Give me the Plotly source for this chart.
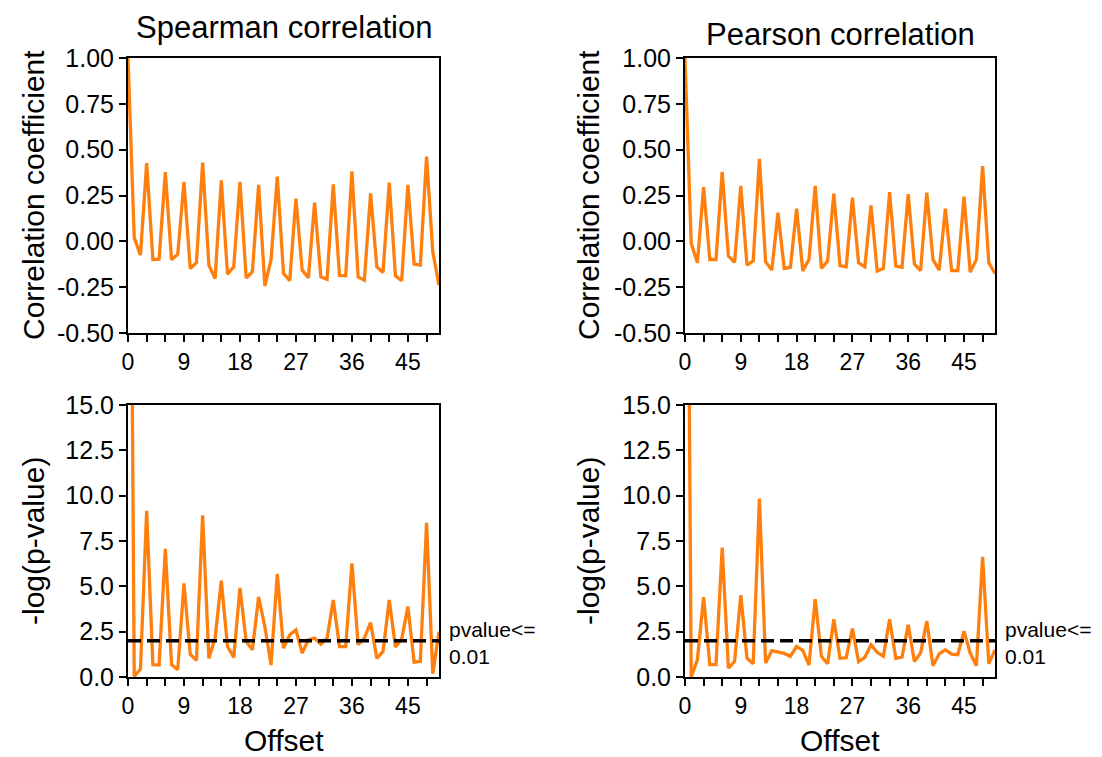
import plotly.graph_objects as go

offsets = list(range(51))

spearman_r = [1.0, 0.02, -0.075, 0.426, -0.099, -0.097, 0.377, -0.10, -0.07, 0.324,
              -0.148, -0.117, 0.430, -0.130, -0.203, 0.333, -0.179, -0.139, 0.324, -0.20,
              -0.166, 0.308, -0.243, -0.10, 0.353, -0.175, -0.215, 0.233, -0.157, -0.199,
              0.211, -0.194, -0.208, 0.311, -0.186, -0.188, 0.382, -0.194, -0.212, 0.262,
              -0.139, -0.17, 0.320, -0.188, -0.215, 0.308, -0.124, -0.13, 0.462, -0.057,
              -0.239]

pearson_r = [1.0, -0.011, -0.117, 0.295, -0.099, -0.099, 0.379, -0.08, -0.115, 0.302,
             -0.13, -0.106, 0.450, -0.111, -0.157, 0.156, -0.148, -0.142, 0.178, -0.162,
             -0.099, 0.302, -0.148, -0.108, 0.260, -0.133, -0.139, 0.238, -0.117, -0.139,
             0.196, -0.162, -0.148, 0.269, -0.135, -0.142, 0.257, -0.124, -0.16, 0.266,
             -0.10, -0.157, 0.178, -0.16, -0.16, 0.244, -0.168, -0.10, 0.410, -0.117,
             -0.175]

spearman_logp = [50.0, 0.04, 0.44, 9.16, 0.68, 0.66, 7.07, 0.68, 0.40, 5.16,
                 1.26, 0.92, 8.92, 1.03, 2.14, 5.31, 1.68, 1.08, 4.91, 1.96,
                 1.50, 4.41, 2.78, 0.66, 5.68, 1.59, 2.33, 2.60, 1.32, 2.05,
                 2.14, 1.81, 2.14, 4.25, 1.68, 1.68, 6.26, 1.78, 2.14, 3.00,
                 1.03, 1.41, 4.25, 1.65, 2.09, 3.88, 0.82, 0.86, 8.50, 0.18,
                 2.50]

pearson_logp = [50.0, 0.0, 0.95, 4.40, 0.68, 0.68, 7.14, 0.49, 0.86, 4.52,
                1.04, 0.73, 9.84, 0.77, 1.45, 1.39, 1.30, 1.14, 1.68, 1.47,
                0.66, 4.29, 1.14, 0.73, 3.19, 1.03, 1.06, 2.67, 0.84, 1.08,
                1.78, 1.36, 1.14, 3.19, 1.03, 1.10, 2.88, 0.86, 1.32, 3.08,
                0.62, 1.28, 1.50, 1.26, 1.23, 2.53, 1.32, 0.62, 6.63, 0.73,
                1.50]

threshold = 2.0  # -log10(0.01)

panel_titles = ["Spearman correlation", "Pearson correlation"]
x_tickvals = list(range(0, 51, 3))
x_ticktext = [str(v) if v % 9 == 0 else "" for v in x_tickvals]
r_tickvals = [-0.5, -0.25, 0.0, 0.25, 0.5, 0.75, 1.0]
r_ticktext = ["-0.50", "-0.25", "0.00", "0.25", "0.50", "0.75", "1.00"]
p_tickvals = [0, 2.5, 5, 7.5, 10, 12.5, 15]
p_ticktext = ["0.0", "2.5", "5.0", "7.5", "10.0", "12.5", "15.0"]

ORANGE = "#ff7f0e"
FONT = "Liberation Sans, Arial, sans-serif"
W, H = 1102, 757

fig = go.Figure()

xdom = [[128 / W, 439 / W], [685 / W, 995 / W]]
ydom_top = [1 - 333 / H, 1 - 58 / H]
ydom_bot = [1 - 677 / H, 1 - 405 / H]

series = [
    (spearman_r, "x", "y"),
    (pearson_r, "x2", "y2"),
    (spearman_logp, "x3", "y3"),
    (pearson_logp, "x4", "y4"),
]
for vals, xa, ya in series:
    fig.add_trace(go.Scatter(x=offsets, y=vals, mode="lines",
                             line=dict(color=ORANGE, width=3.3),
                             xaxis=xa, yaxis=ya, showlegend=False))

for xa, ya in [("x3", "y3"), ("x4", "y4")]:
    fig.add_trace(go.Scatter(x=[0, 50], y=[threshold, threshold], mode="lines",
                             line=dict(color="black", width=3.5, dash="13px,6px"),
                             xaxis=xa, yaxis=ya, showlegend=False))

common_x = dict(range=[0, 50], tickvals=x_tickvals, ticktext=x_ticktext,
                ticks="outside", ticklen=7, tickwidth=1.5, tickcolor="black",
                showline=True, linecolor="black", linewidth=2, mirror=True,
                showgrid=False, zeroline=False, automargin=False,
                tickfont=dict(family=FONT, size=23, color="black"))
common_y = dict(ticks="outside", ticklen=7, tickwidth=1.5, tickcolor="black",
                showline=True, linecolor="black", linewidth=2, mirror=True,
                showgrid=False, zeroline=False, automargin=False,
                tickfont=dict(family=FONT, size=25, color="black"))

fig.update_layout(
    width=W, height=H,
    margin=dict(l=0, r=0, t=0, b=0),
    paper_bgcolor="white", plot_bgcolor="white",
    xaxis=dict(domain=xdom[0], anchor="y", **common_x),
    yaxis=dict(domain=ydom_top, anchor="x", range=[-0.5, 1.0],
               tickvals=r_tickvals, ticktext=r_ticktext, **common_y),
    xaxis2=dict(domain=xdom[1], anchor="y2", **common_x),
    yaxis2=dict(domain=ydom_top, anchor="x2", range=[-0.5, 1.0],
                tickvals=r_tickvals, ticktext=r_ticktext, **common_y),
    xaxis3=dict(domain=xdom[0], anchor="y3", **common_x),
    yaxis3=dict(domain=ydom_bot, anchor="x3", range=[0, 15],
                tickvals=p_tickvals, ticktext=p_ticktext, **common_y),
    xaxis4=dict(domain=xdom[1], anchor="y4", **common_x),
    yaxis4=dict(domain=ydom_bot, anchor="x4", range=[0, 15],
                tickvals=p_tickvals, ticktext=p_ticktext, **common_y),
)

ann = []
title_font = dict(family=FONT, size=31, color="black")
label_font = dict(family=FONT, size=30, color="black")
title_y = [27, 35]
for i, t in enumerate(panel_titles):
    xc = (xdom[i][0] + xdom[i][1]) / 2
    ann.append(dict(text=t, x=xc, y=1 - title_y[i] / H, xref="paper", yref="paper",
                    xanchor="center", yanchor="middle", showarrow=False, font=title_font))
    ann.append(dict(text="Offset", x=xc, y=1 - 740 / H, xref="paper", yref="paper",
                    xanchor="center", yanchor="middle", showarrow=False, font=label_font))
for xc in [33 / W, 588 / W]:
    ann.append(dict(text="Correlation coefficient", x=xc, y=1 - 195 / H,
                    xref="paper", yref="paper", xanchor="center", yanchor="middle",
                    textangle=-90, showarrow=False, font=label_font))
    ann.append(dict(text="-log(p-value)", x=xc, y=1 - 541 / H,
                    xref="paper", yref="paper", xanchor="center", yanchor="middle",
                    textangle=-90, showarrow=False, font=label_font))
for xl in [447 / W, 1003 / W]:
    ann.append(dict(text="pvalue<=<br>0.01", x=xl, y=1 - 643 / H,
                    xref="paper", yref="paper", xanchor="left", yanchor="middle",
                    align="left", showarrow=False,
                    font=dict(family=FONT, size=21, color="black")))
fig.update_layout(annotations=ann)

fig.write_html("out.html",
               config={"displayModeBar": False},
               post_script="document.body.style.margin='0';document.body.style.overflow='hidden';")
